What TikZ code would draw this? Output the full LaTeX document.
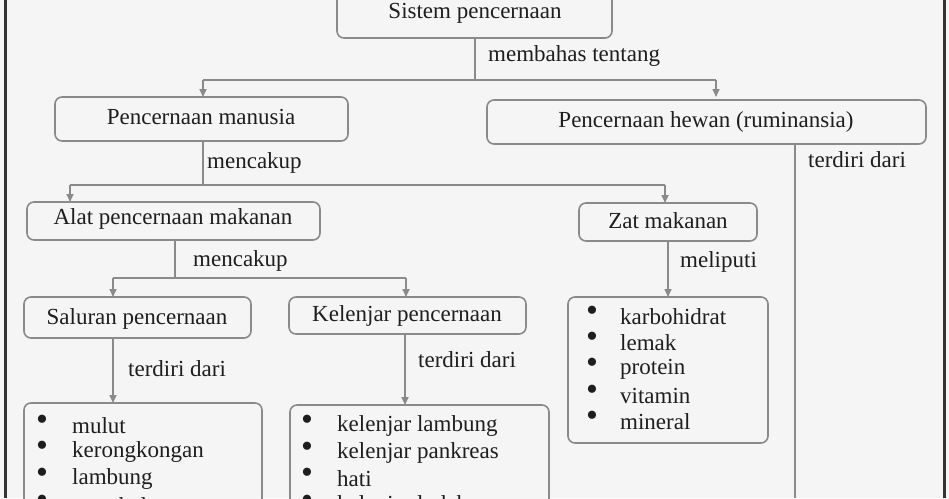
\documentclass[tikz,border=0pt]{standalone}
\usepackage{fontspec}
\setmainfont{Liberation Serif}
\usetikzlibrary{arrows.meta}
\definecolor{bg}{HTML}{F5F5F5}
\definecolor{ln}{HTML}{8A8A8A}
\definecolor{tx}{HTML}{1E1E1E}
\begin{document}
\begin{tikzpicture}[x=1pt,y=-1pt,
  box/.style={draw=ln,line width=1.6pt,rounded corners=7pt,fill=bg},
  lbl/.style={text=tx,font=\fontsize{23}{25}\selectfont,anchor=west,inner sep=0},
  bul/.style={text=tx,font=\fontsize{34}{36}\selectfont,anchor=west,inner sep=0},
  conn/.style={draw=ln,line width=1.6pt},
  arr/.style={conn,-{Triangle[width=7pt,length=8pt]}}]
\path[use as bounding box] (0,0) rectangle (949,498);
\clip (0,0) rectangle (949,498);
\fill[bg] (0,0) rectangle (949,498);
\draw[line width=3pt,black!80] (5,0) -- (5,498) (944,0) -- (944,498);
\tikzset{t/.style={text=tx,font=\fontsize{23}{25}\selectfont,inner sep=0}}
% boxes
\draw[box] (337,-10) rectangle (612,38); \node[t] (sp) at (475,13) {Sistem pencernaan};
\coordinate (spb) at (475,38);
\draw[box] (55,97) rectangle (348,141); \node[t] (pm) at (201,117) {Pencernaan manusia};
\draw[box] (487,100) rectangle (926,144); \node[t] (ph) at (706,122) {Pencernaan hewan (ruminansia)};
\draw[box] (27,202) rectangle (320,240); \node[t] (apm) at (173,219) {Alat pencernaan makanan};
\draw[box] (579,203) rectangle (757,241); \node[t] (zm) at (668,221) {Zat makanan};
\draw[box] (24,297) rectangle (251,338); \node[t] (sal) at (137,319) {Saluran pencernaan};
\draw[box] (289,297) rectangle (526,334); \node[t] (kel) at (407,316) {Kelenjar pencernaan};
\draw[box] (568,297) rectangle (768,443);
\draw[box] (24,403) rectangle (262,520);
\draw[box] (290,405) rectangle (549,520);
% connectors
\coordinate (a1) at (203,97); \coordinate (a2) at (716,97);
\draw[conn] (spb) -- (475,80);
\draw[arr] (203,80) -- (a1);
\draw[arr] (716,80) -- (a2);
\draw[conn] (203,80) -- (716,80);
\node[lbl] (l1) at (488,56) {membahas tentang};
\draw[conn] (203,141) -- (203,185);
\node[lbl] (l2) at (207,163) {mencakup};
\draw[conn] (70,185) -- (665,185);
\draw[arr] (70,185) -- (70,202);
\draw[arr] (665,185) -- (665,203);
\draw[conn] (795,144) -- (795,498);
\node[lbl] (l3) at (808,160) {terdiri dari};
\draw[conn] (175,240) -- (175,278);
\node[lbl] (l4) at (193,261) {mencakup};
\draw[conn] (113,278) -- (406,278);
\draw[arr] (113,278) -- (113,297);
\draw[arr] (406,278) -- (406,297);
\draw[arr] (668,241) -- (668,297);
\node[lbl] (l5) at (680,262) {meliputi};
\draw[arr] (113,338) -- (113,403);
\node[lbl] (l6) at (128,369) {terdiri dari};
\draw[arr] (405,334) -- (405,405);
\node[lbl] (l7) at (418,360) {terdiri dari};
% lists
\foreach \y/\s in {317/karbohidrat,343/lemak,369/protein,396/vitamin,422/mineral}
  {\node[bul] at (586,\y-3) {\textbullet}; \node[lbl] at (620,\y) {\s};}
\foreach \y/\s in {426/mulut,452/kerongkongan,479/lambung,506/usus halus}
  {\node[bul] at (36,\y-3) {\textbullet}; \node[lbl] at (72,\y) {\s};}
\foreach \y/\s in {426/kelenjar lambung,453/kelenjar pankreas,479/hati,506/kelenjar ludah}
  {\node[bul] at (301,\y-3) {\textbullet}; \node[lbl] at (337,\y) {\s};}
\end{tikzpicture}
\end{document}
